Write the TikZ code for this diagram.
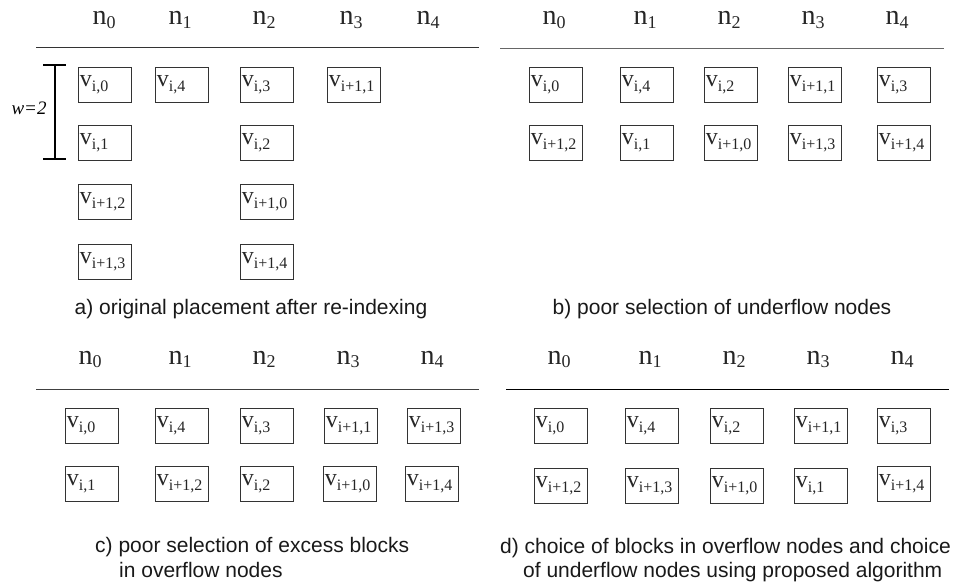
\documentclass[tikz,border=0pt]{standalone}
\usepackage{fontspec}
\setmainfont{Liberation Serif}
\setsansfont{Liberation Sans}
\newcommand\vblk[1]{\fontsize{24}{24}\selectfont v\raisebox{-5pt}{\fontsize{16}{16}\selectfont #1}}
\newcommand\nlab[1]{\fontsize{28}{28}\selectfont n\raisebox{-3.5pt}{\fontsize{18}{18}\selectfont #1}}
\tikzset{
  blk/.style={draw=black!80, line width=0.8pt, anchor=north west, inner xsep=1.5pt, inner ysep=0pt,
    text width=50pt, align=left, minimum width=53pt, minimum height=35pt, text=black!85},
  nlabel/.style={anchor=base, inner sep=0pt, text=black!85},
  rule/.style={line width=1pt},
  capt/.style={font=\sffamily\fontsize{21}{21}\selectfont, inner sep=0pt, text=black!90},
}
\begin{document}
\begin{tikzpicture}[x=1pt,y=-1pt]
\useasboundingbox (0,0) rectangle (956,585);
% ---------- panel a ----------
\foreach \x/\i in {104/0,180/1,264/2,351/3,428/4}
  \node[nlabel] (an\i) at (\x,25) {\nlab{\i}};
\draw[rule, black!80] (36,48) -- (479,48);
\node[blk] (a1) at (78,67) {\vblk{i,0}};
\node[blk] (a2) at (155,67) {\vblk{i,4}};
\node[blk] (a3) at (240,67) {\vblk{i,3}};
\node[blk] (a4) at (327,67) {\vblk{i+1,1}};
\node[blk] (a5) at (78,125) {\vblk{i,1}};
\node[blk] (a6) at (240,125) {\vblk{i,2}};
\node[blk] (a7) at (78,184) {\vblk{i+1,2}};
\node[blk] (a8) at (240,184) {\vblk{i+1,0}};
\node[blk] (a9) at (78,244) {\vblk{i+1,3}};
\node[blk] (a10) at (240,244) {\vblk{i+1,4}};
\coordinate (wt) at (55,65);
\coordinate (wb) at (55,159);
\draw[line width=1.4pt] (wt) -- (wb);
\draw[line width=1.4pt] ([xshift=-12pt]wt) -- ([xshift=11pt]wt);
\draw[line width=1.4pt] ([xshift=-12pt]wb) -- ([xshift=11pt]wb);
\node[anchor=base, inner sep=0pt, font=\fontsize{19}{19}\selectfont\itshape] (wlab) at (29,115) {w=2};
\node[capt, anchor=base] (capa) at (251,315) {a) original placement after re-indexing};
% ---------- panel b ----------
\foreach \x/\i in {554/0,645/1,729/2,813/3,897/4}
  \node[nlabel] (bn\i) at (\x,25) {\nlab{\i}};
\draw[rule, black!60] (500,49) -- (944,49);
\node[blk] (b1) at (529,67) {\vblk{i,0}};
\node[blk] (b2) at (620,67) {\vblk{i,4}};
\node[blk] (b3) at (704,67) {\vblk{i,2}};
\node[blk] (b4) at (788,67) {\vblk{i+1,1}};
\node[blk] (b5) at (877,67) {\vblk{i,3}};
\node[blk] (b6) at (529,125) {\vblk{i+1,2}};
\node[blk] (b7) at (620,125) {\vblk{i,1}};
\node[blk] (b8) at (704,125) {\vblk{i+1,0}};
\node[blk] (b9) at (788,125) {\vblk{i+1,3}};
\node[blk] (b10) at (877,125) {\vblk{i+1,4}};
\node[capt, anchor=base] (capb) at (722,315) {b) poor selection of underflow nodes};
% ---------- panel c ----------
\foreach \x/\i in {90/0,180/1,264/2,348/3,432/4}
  \node[nlabel] (cn\i) at (\x,364) {\nlab{\i}};
\draw[rule, black!75] (36,389) -- (479,389);
\node[blk] (c1) at (65,408) {\vblk{i,0}};
\node[blk] (c2) at (155,408) {\vblk{i,4}};
\node[blk] (c3) at (240,408) {\vblk{i,3}};
\node[blk] (c4) at (324,408) {\vblk{i+1,1}};
\node[blk] (c5) at (407,408) {\vblk{i+1,3}};
\node[blk] (c6) at (65,466) {\vblk{i,1}};
\node[blk] (c7) at (155,466) {\vblk{i+1,2}};
\node[blk] (c8) at (240,466) {\vblk{i,2}};
\node[blk] (c9) at (323,466) {\vblk{i+1,0}};
\node[blk] (c10) at (405,466) {\vblk{i+1,4}};
\node[capt, anchor=base west] (capc1) at (95,552) {c) poor selection of excess blocks};
\node[capt, anchor=base west] (capc2) at (119,577) {in overflow nodes};
% ---------- panel d ----------
\foreach \x/\i in {559/0,650/1,734/2,818/3,902/4}
  \node[nlabel] (dn\i) at (\x,364) {\nlab{\i}};
\draw[rule, black] (506,389) -- (949,389);
\node[blk] (d1) at (534,408) {\vblk{i,0}};
\node[blk] (d2) at (625,408) {\vblk{i,4}};
\node[blk] (d3) at (710,408) {\vblk{i,2}};
\node[blk] (d4) at (794,408) {\vblk{i+1,1}};
\node[blk] (d5) at (877,408) {\vblk{i,3}};
\node[blk] (d6) at (534,468) {\vblk{i+1,2}};
\node[blk] (d7) at (625,468) {\vblk{i+1,3}};
\node[blk] (d8) at (710,468) {\vblk{i+1,0}};
\node[blk] (d9) at (794,468) {\vblk{i,1}};
\node[blk] (d10) at (877,466) {\vblk{i+1,4}};
\node[capt, anchor=base west] (capd1) at (500,553) {d) choice of blocks in overflow nodes and choice};
\node[capt, anchor=base west] (capd2) at (523,577) {of underflow nodes using proposed algorithm};
\end{tikzpicture}
\end{document}
